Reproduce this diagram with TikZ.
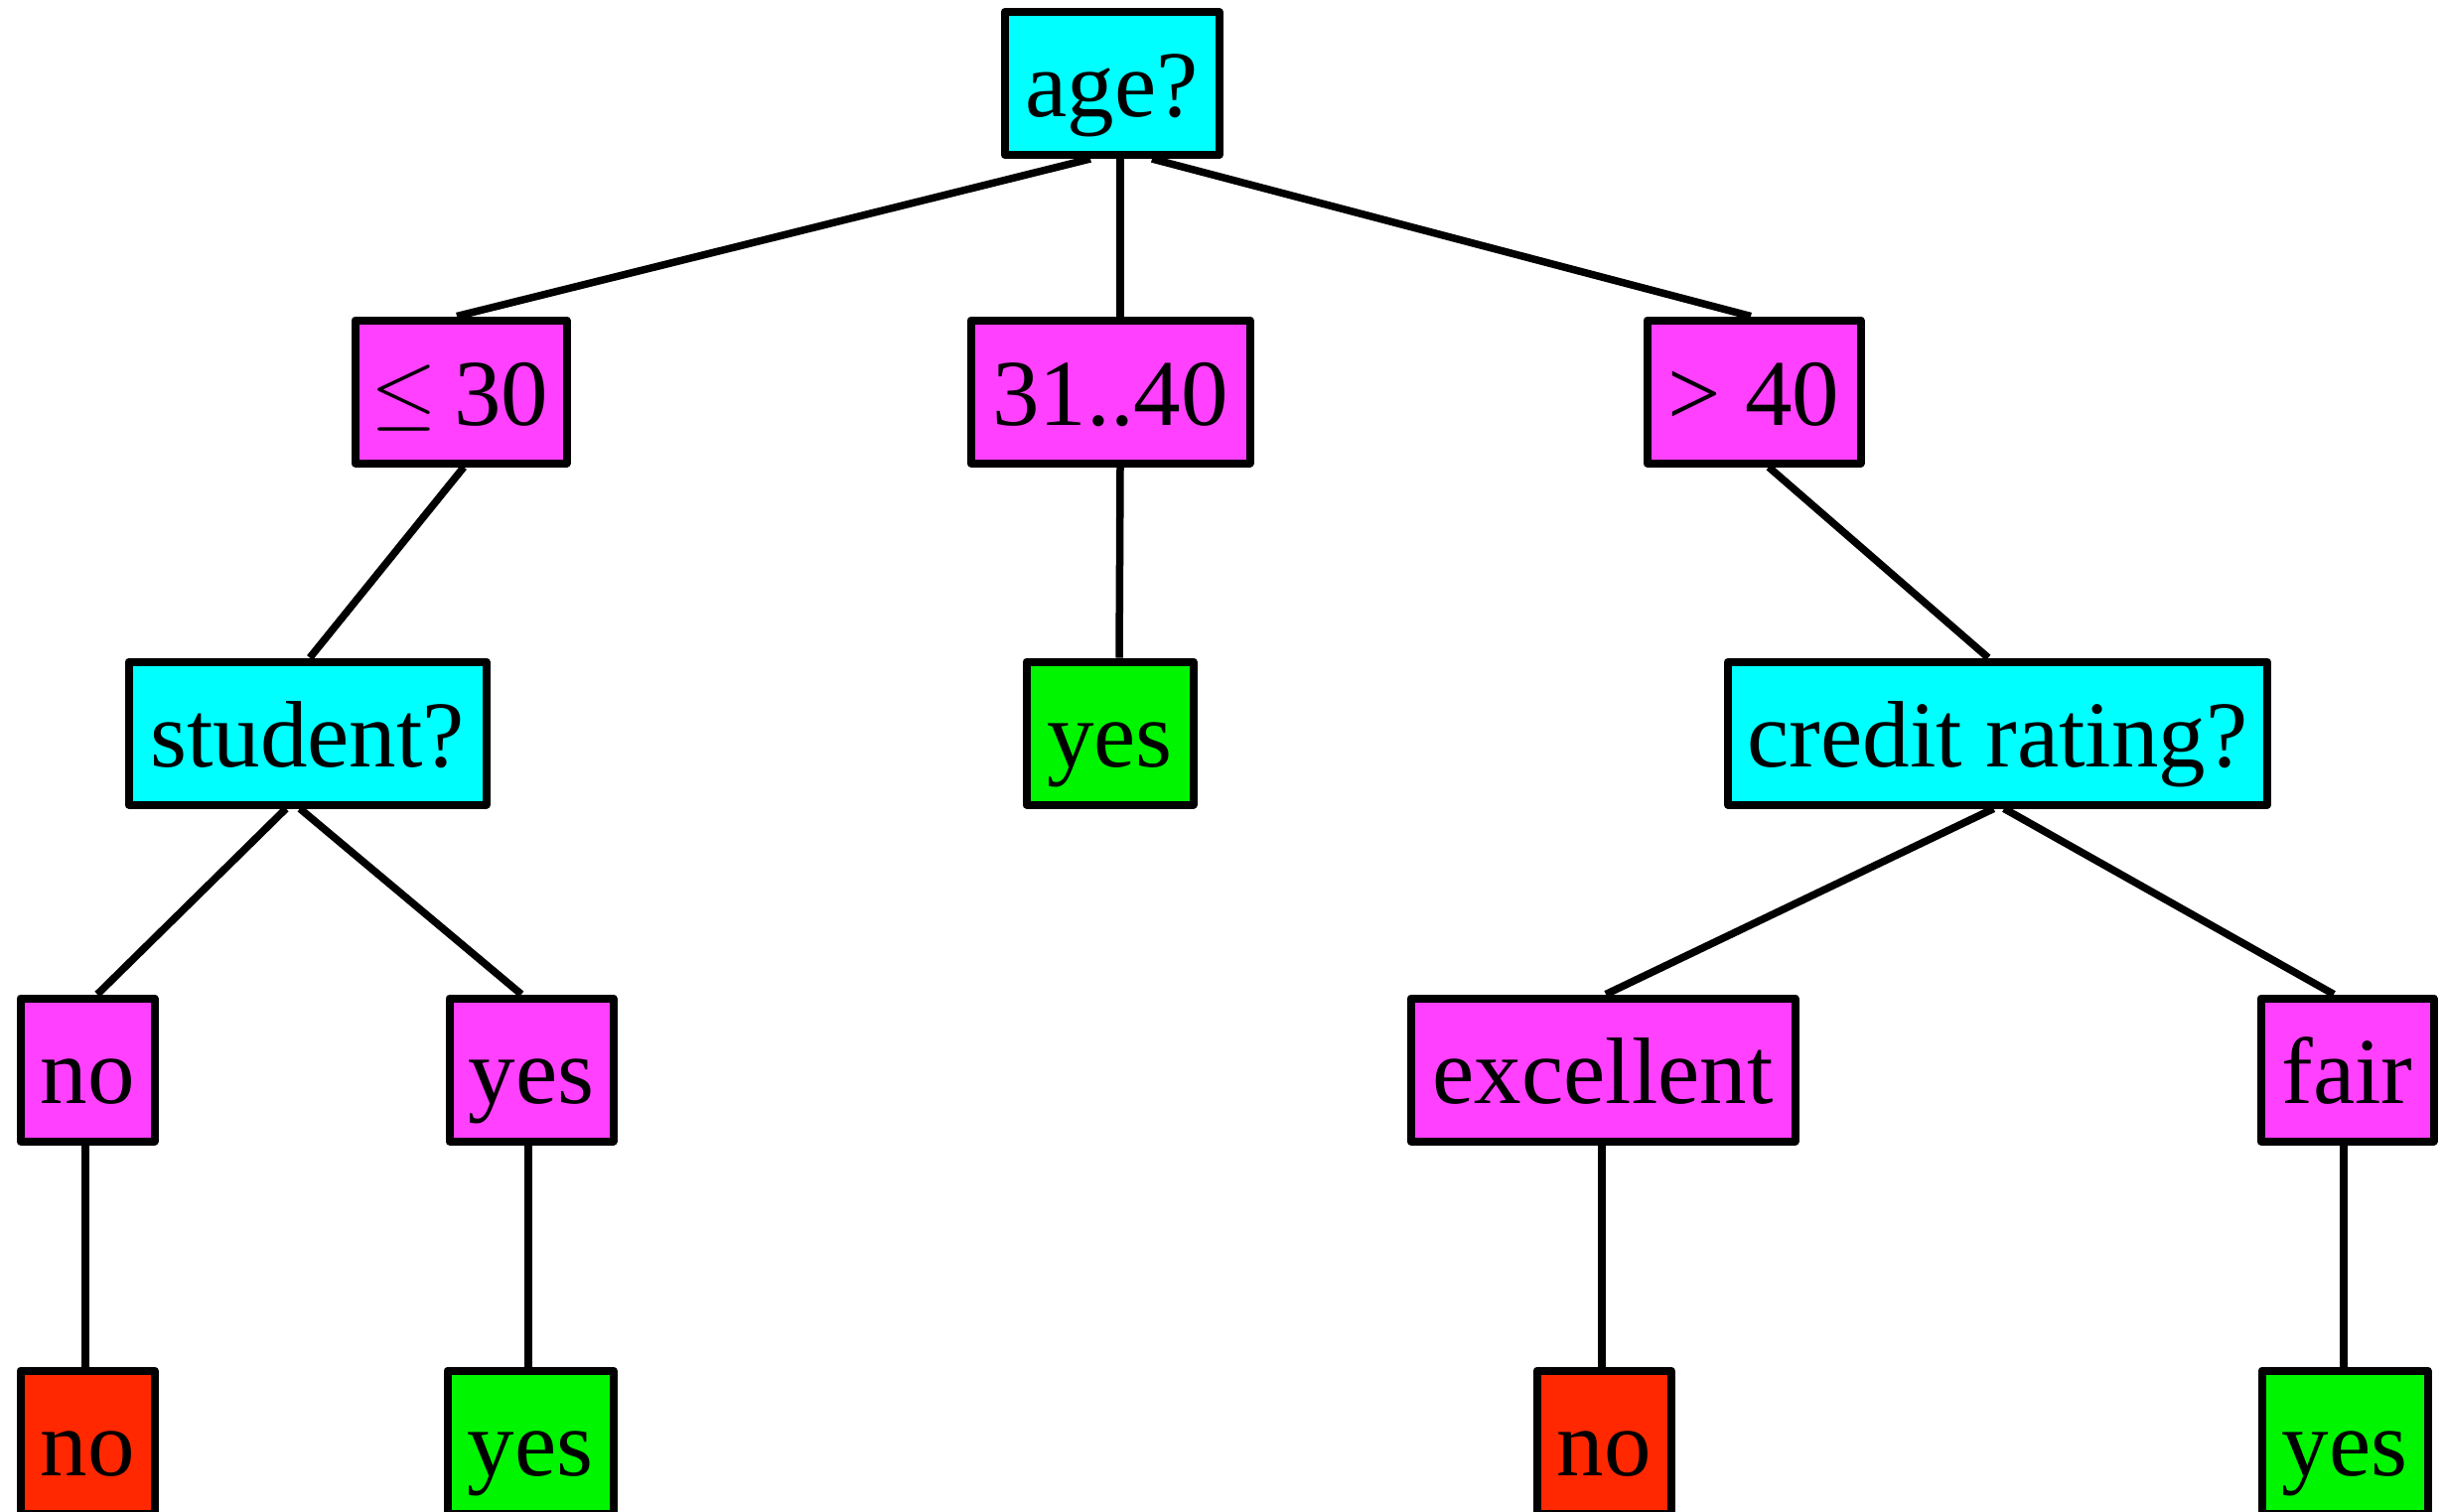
\documentclass[tikz,border=0pt]{standalone}
\usepackage{graphicx}
\usepackage{fontspec}
\setmainfont{Liberation Serif}
\definecolor{qcyan}{HTML}{00FFFF}
\definecolor{qmag}{HTML}{FF40FF}
\definecolor{qred}{HTML}{FF2800}
\definecolor{qgreen}{HTML}{00F500}
% relation sign with a level bar, set from the math font at 10pt and enlarged
\newcommand{\leqsign}{\raisebox{3pt}{\scalebox{4.3}{\fontsize{10}{12}\selectfont$\leq$}}}
\tikzset{
  box/.style={draw=black, line width=4pt, line join=round, rectangle,
    inner sep=0pt, minimum height=72pt, text height=33.5pt, text depth=0pt,
    font=\fontsize{47.5}{57}\selectfont},
  test/.style={box, fill=qcyan},
  branch/.style={box, fill=qmag},
  leafno/.style={box, fill=qred},
  leafyes/.style={box, fill=qgreen},
  edge/.style={draw=black, line width=3.75pt}
}
\begin{document}
\begin{tikzpicture}[x=0.5pt, y=-0.5pt]
\useasboundingbox (0,0) rectangle (2462,1522);
\fill[white] (0,0) rectangle (2462,1522);

% root
\node[test, minimum width=108pt] (age) at (1119.5,84) {age?};
% age branches
\node[branch, minimum width=106.5pt] (le30) at (464,394.5) {\hspace{-1pt}\leqsign\hspace{8.5pt}30};
\node[branch, minimum width=140.5pt] (mid) at (1118,394.5) {31..40};
\node[branch, minimum width=107.5pt] (gt40) at (1766,394.5) {> 40};
% second level
\node[test, minimum width=180pt] (student) at (309.5,738.5) {student?};
\node[leafyes, minimum width=84pt] (yesmid) at (1117.5,738.5) {yes};
\node[test, minimum width=271.5pt] (credit) at (2011.5,738.5) {credit rating?};
% attribute values
\node[branch, minimum width=67.5pt] (nomag) at (88,1077.5) {no};
\node[branch, minimum width=82.5pt] (yesmag) at (535,1077.5) {yes};
\node[branch, minimum width=193.5pt] (excellent) at (1614,1077.5) {excellent};
\node[branch, minimum width=87pt] (fair) at (2363.5,1077.5) {fair};
% leaves
\node[leafno, minimum width=67.5pt] (nored) at (88,1452.5) {no};
\node[leafyes, minimum width=83.5pt] (yesgreen) at (534,1452.5) {yes};
\node[leafno, minimum width=67.5pt] (nored2) at (1615,1452.5) {no};
\node[leafyes, minimum width=83.5pt] (yesgreen2) at (2361,1452.5) {yes};

% connectors
\draw[edge] ([xshift=-10.75pt]age.south) -- ([xshift=-2pt]le30.north);
\draw[edge] ([xshift=4.25pt]age.south) -- ([xshift=5pt]mid.north);
\draw[edge] ([xshift=20.25pt]age.south) -- ([xshift=-1.5pt]gt40.north);
\draw[edge] ([xshift=1.5pt]le30.south) -- ([xshift=1.25pt]student.north);
\draw[edge] ([xshift=5pt]mid.south) -- ([xshift=4.75pt]yesmid.north);
\draw[edge] ([xshift=7.5pt]gt40.south) -- ([xshift=-4.75pt]credit.north);
\draw[edge] ([xshift=-10.75pt]student.south) -- ([xshift=5pt]nomag.north);
\draw[edge] ([xshift=-3.75pt]student.south) -- ([xshift=-5pt]yesmag.north);
\draw[edge] ([xshift=-2pt]credit.south) -- ([xshift=1.5pt]excellent.north);
\draw[edge] ([xshift=3.25pt]credit.south) -- ([xshift=-6.75pt]fair.north);
\draw[edge] ([xshift=-1pt]nomag.south) -- ([xshift=-1pt]nored.north);
\draw[edge] ([xshift=-1.5pt]yesmag.south) -- ([xshift=-1pt]yesgreen.north);
\draw[edge] ([xshift=-0.5pt]excellent.south) -- ([xshift=-1pt]nored2.north);
\draw[edge] ([xshift=-1.75pt]fair.south) -- ([xshift=-0.5pt]yesgreen2.north);
\end{tikzpicture}
\end{document}
